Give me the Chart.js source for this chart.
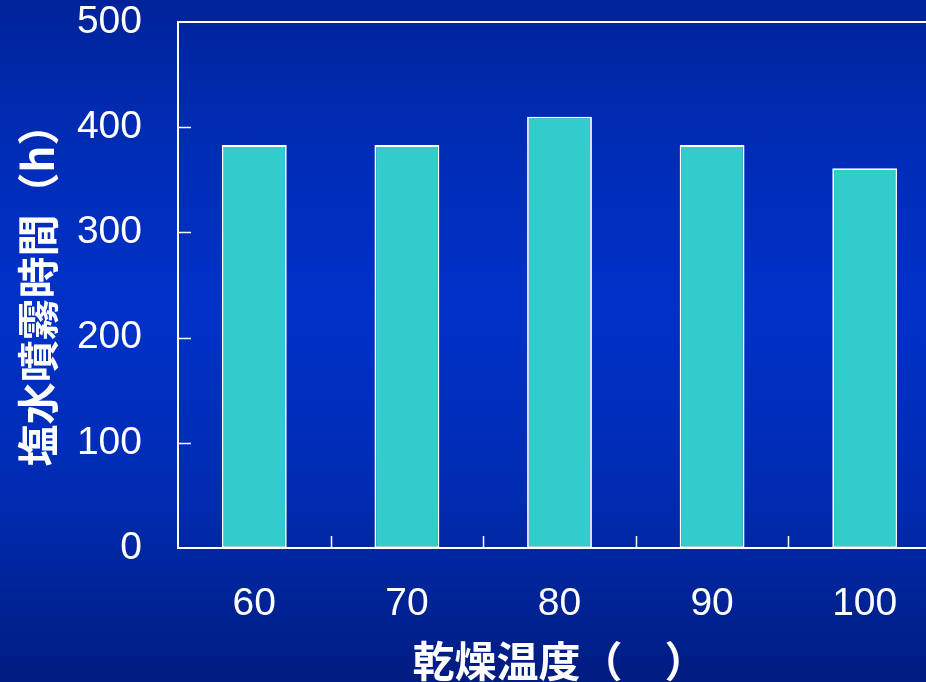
<!DOCTYPE html>
<html>
<head>
<meta charset="utf-8">
<script src="https://cdn.jsdelivr.net/npm/chart.js@4"></script>
<style>
  html, body { margin: 0; padding: 0; overflow: hidden; }
  body { width: 926px; height: 682px; }
  #wrap {
    position: relative;
    width: 941px;
    height: 682px;
    background: linear-gradient(to bottom, #00239a 0%, #002cb4 20%, #0031c8 45%, #002cb2 72%, #001c80 100%);
  }
</style>
</head>
<body>
<div id="wrap"><canvas id="chart"></canvas></div>
<script>
const categories = ["60", "70", "80", "90", "100"];
const sprayHours = [383, 383, 410, 383, 361];
const yTicks = [0, 100, 200, 300, 400, 500];

const xTitle = "乾燥温度（　）";
const yTitle = "塩水噴霧時間（h）";

const WHITE = "#ffffff";

// Inward ticks and the top frame line, drawn from the chart's own scales.
const frameTicks = {
  id: "frameTicks",
  afterDatasetsDraw(chart) {
    const { ctx, chartArea, scales } = chart;
    ctx.save();
    ctx.strokeStyle = WHITE;
    ctx.lineWidth = 2;

    ctx.beginPath();
    ctx.moveTo(chartArea.left - 1, chartArea.top);
    ctx.lineTo(chartArea.right + 1, chartArea.top);
    ctx.stroke();

    ctx.lineWidth = 1.5;
    yTicks.slice(1, -1).forEach((value) => {
      const y = Math.round(scales.y.getPixelForValue(value)) + 0.5;
      ctx.beginPath();
      ctx.moveTo(chartArea.left, y);
      ctx.lineTo(chartArea.left + 13, y);
      ctx.stroke();
    });

    const half = (scales.x.getPixelForValue(1) - scales.x.getPixelForValue(0)) / 2;
    for (let i = 0; i < categories.length; i++) {
      const x = Math.round(scales.x.getPixelForValue(i) + half) + 0.5;
      ctx.beginPath();
      ctx.moveTo(x, chartArea.bottom);
      ctx.lineTo(x, chartArea.bottom - 12);
      ctx.stroke();
    }
    ctx.restore();
  },
};

new Chart(document.getElementById("chart"), {
  type: "bar",
  data: {
    labels: categories,
    datasets: [
      {
        data: sprayHours,
        backgroundColor: "#33cccc",
        borderColor: WHITE,
        borderWidth: 1.8,
        borderSkipped: false,
        categoryPercentage: 1,
        barPercentage: 0.425,
      },
    ],
  },
  options: {
    responsive: true,
    maintainAspectRatio: false,
    animation: false,
    layout: { padding: { top: 22, right: 0, left: 0, bottom: 0 } },
    plugins: {
      legend: { display: false },
      tooltip: { enabled: false },
    },
    scales: {
      x: {
        grid: { display: false, drawTicks: false },
        border: { display: true, color: WHITE, width: 2 },
        ticks: {
          color: WHITE,
          padding: 33,
          font: { family: "'Liberation Sans', Arial, sans-serif", size: 39 },
        },
        title: {
          display: true,
          text: xTitle,
          color: WHITE,
          padding: { top: 1, bottom: 0 },
          font: { family: "'Noto Sans CJK JP', sans-serif", size: 42, weight: "bold", lineHeight: 1 },
        },
        afterFit(scale) {
          scale.height = 134;
          scale.paddingLeft = 0;
          scale.paddingRight = 0;
        },
      },
      y: {
        min: 0,
        max: 500,
        grid: { display: false, drawTicks: false },
        border: { display: true, color: WHITE, width: 2 },
        afterBuildTicks(scale) {
          scale.ticks = yTicks.map((value) => ({ value }));
        },
        ticks: {
          color: WHITE,
          padding: 36,
          font: { family: "'Liberation Sans', Arial, sans-serif", size: 39 },
        },
        title: {
          display: true,
          text: yTitle,
          color: WHITE,
          padding: { top: 17, bottom: 0 },
          font: { family: "'Noto Sans CJK JP', sans-serif", size: 42, weight: "bold", lineHeight: 1 },
        },
        afterFit(scale) {
          scale.width = 178;
          scale.paddingTop = 0;
          scale.paddingBottom = 0;
        },
      },
    },
  },
  plugins: [frameTicks],
});
</script>
</body>
</html>
